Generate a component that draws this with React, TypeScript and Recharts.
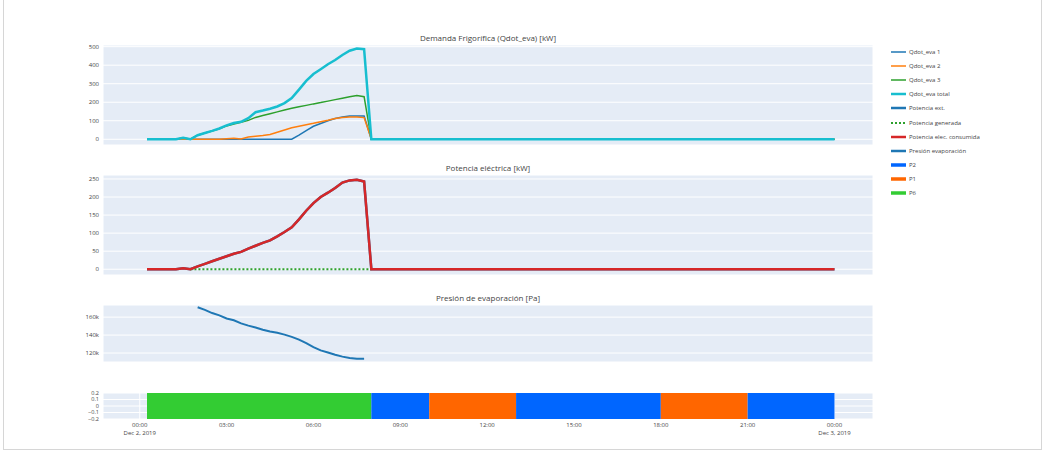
import React from 'react';
import {
  LineChart, Line, AreaChart, Area, XAxis, YAxis, CartesianGrid,
} from 'recharts';

const FONT = '"Open Sans", verdana, arial, sans-serif';
const TXT = '#444';
const BG = '#E5ECF6';

// hours since Dec 2, 2019 00:00 (15 min data while the plant runs)
const HOURS = [
  0.25, 1.25, 1.5, 1.75, 2, 2.25, 2.5, 2.75, 3, 3.25, 3.5, 3.75, 4, 4.25, 4.5,
  4.75, 5, 5.25, 5.5, 5.75, 6, 6.25, 6.5, 6.75, 7, 7.25, 7.5, 7.75, 8, 24,
];
const QDOT_1 = [
  0, 0, 0, 0, 0, 0, 0, 0, 0, 0, 0, 0, 0, 0, 0,
  0, 0, 0, 22, 47, 70, 85, 100, 112, 120, 125, 126, 125, 0, 0,
];
const QDOT_2 = [
  0, 0, 0, 0, 0, 0, 0, 0, 3, 6, 2, 12, 16, 20, 26,
  38, 50, 62, 70, 78, 86, 95, 103, 112, 118, 120, 120, 117, 0, 0,
];
const QDOT_3 = [
  0, 0, 8, 0, 22, 34, 45, 56, 72, 82, 92, 102, 118, 128, 138,
  148, 158, 167, 175, 183, 191, 198, 206, 214, 222, 229, 236, 230, 0, 0,
];
const QDOT_TOTAL = [
  0, 0, 8, 0, 22, 34, 45, 58, 75, 88, 94, 114, 146, 155, 165,
  177, 195, 222, 268, 315, 352, 378, 405, 428, 455, 478, 490, 486, 0, 0,
];
const POT_CONSUMIDA = [
  0, 0, 3, 0, 8, 15, 22, 29, 36, 43, 48, 57, 65, 73, 80,
  91, 103, 116, 138, 162, 183, 200, 212, 225, 240, 246, 248, 243, 0, 0,
];
const POT_EXT = POT_CONSUMIDA;
const POT_GENERADA = [
  null, null, null, 0, 0, 0, 0, 0, 0, 0, 0, 0, 0, 0, 0,
  0, 0, 0, 0, 0, 0, 0, 0, 0, 0, 0, 0, 0, 0, null,
];

const PRES_HOURS = [
  2, 2.25, 2.5, 2.75, 3, 3.25, 3.5, 3.75, 4, 4.25, 4.5, 4.75,
  5, 5.25, 5.5, 5.75, 6, 6.25, 6.5, 6.75, 7, 7.25, 7.5, 7.75,
];
const PRES_PA = [
  171000, 168000, 164500, 162000, 158500, 156500, 153000, 150500, 148500, 146000, 144000, 142500,
  140500, 138000, 135000, 131000, 126500, 123000, 120500, 118000, 116000, 114500, 113500, 113500,
];

const PERIODS = ['P6', 'P2', 'P1', 'P2', 'P1', 'P2'];
const PERIOD_START = [0.25, 8, 10, 13, 18, 21];
const PERIOD_END = [8, 10, 13, 18, 21, 24];
const PERIOD_COLORS: Record<string, string> = { P2: '#0066FF', P1: '#FF6600', P6: '#33CC33' };
const BAR_RANGE = [-0.2, 0.2];

const TIME_TICKS = [0, 3, 6, 9, 12, 15, 18, 21, 24];
const TIME_LABELS = ['00:00', '03:00', '06:00', '09:00', '12:00', '15:00', '18:00', '21:00', '00:00'];
const DATE_LABELS = ['Dec 2, 2019', '', '', '', '', '', '', '', 'Dec 3, 2019'];
const X_DOMAIN = [-1.27, 25.33];

const LEGEND = [
  { name: 'Qdot_eva 1', color: '#1f77b4', width: 1.5, dash: '' },
  { name: 'Qdot_eva 2', color: '#ff7f0e', width: 1.5, dash: '' },
  { name: 'Qdot_eva 3', color: '#2ca02c', width: 1.5, dash: '' },
  { name: 'Qdot_eva total', color: '#17becf', width: 2.5, dash: '' },
  { name: 'Potencia ext.', color: '#1f77b4', width: 2.5, dash: '' },
  { name: 'Potencia generada', color: '#2ca02c', width: 2, dash: '2 2' },
  { name: 'Potencia elec. consumida', color: '#d62728', width: 2.5, dash: '' },
  { name: 'Presión evaporación', color: '#1f77b4', width: 2.5, dash: '' },
  { name: 'P2', color: '#0066FF', width: 3.5, dash: '' },
  { name: 'P1', color: '#FF6600', width: 3.5, dash: '' },
  { name: 'P6', color: '#33CC33', width: 3.5, dash: '' },
];

const demandRows = HOURS.map((t, i) => ({
  t, q1: QDOT_1[i], q2: QDOT_2[i], q3: QDOT_3[i], qt: QDOT_TOTAL[i],
  ext: POT_EXT[i], gen: POT_GENERADA[i], cons: POT_CONSUMIDA[i],
}));
const presRows = PRES_HOURS.map((t, i) => ({ t, p: PRES_PA[i] }));
const periodRows = PERIODS.flatMap((_, i) => [
  { t: PERIOD_START[i], [`s${i}`]: BAR_RANGE },
  { t: PERIOD_END[i], [`s${i}`]: BAR_RANGE },
]);

const tickStyle = { fontSize: 6, fill: TXT, fontFamily: FONT };

const TimeTick = (props: any) => {
  const { x, y, payload } = props;
  const i = TIME_TICKS.indexOf(payload.value);
  return (
    <text x={x} y={y} textAnchor="middle" fontSize={6} fill={TXT} fontFamily={FONT}>
      <tspan x={x} dy={8}>{TIME_LABELS[i]}</tspan>
      {DATE_LABELS[i] && <tspan x={x} dy={8}>{DATE_LABELS[i]}</tspan>}
    </text>
  );
};

const hiddenX = (
  <XAxis type="number" dataKey="t" domain={X_DOMAIN} allowDataOverflow ticks={TIME_TICKS}
    height={0} tick={false} axisLine={false} tickLine={false} />
);

const MARGIN = { top: 10, right: 27, bottom: 10, left: 73 };

const Title = ({ y, text }: { y: number; text: string }) => (
  <div style={{
    position: 'absolute', left: 103, width: 770, top: y - 6, textAlign: 'center',
    fontSize: 8, color: TXT, fontFamily: FONT, lineHeight: '12px',
  }}>{text}</div>
);

export default function App() {
  return (
    <div style={{ position: 'absolute', left: 0, top: 0, width: 1049, height: 455, background: '#fff', overflow: 'hidden' }}>
      <div style={{ position: 'absolute', left: 3, top: -2, width: 1037, height: 450, border: '1px solid #d6d6d6' }} />

      <Title y={38} text="Demanda Frigorífica (Qdot_eva) [kW]" />
      <Title y={168} text="Potencia eléctrica [kW]" />
      <Title y={298} text="Presión de evaporación [Pa]" />

      <div style={{ position: 'absolute', left: 0, top: 35 }}>
        <LineChart width={900} height={120} data={demandRows} margin={MARGIN}>
          <CartesianGrid stroke="#fff" fill={BG} fillOpacity={1} />
          {hiddenX}
          <YAxis type="number" domain={[-31, 509]} ticks={[0, 100, 200, 300, 400, 500]} width={30} interval={0}
            tick={tickStyle} tickSize={0} tickMargin={4} axisLine={false} tickLine={false} />
          <Line dataKey="q1" stroke="#1f77b4" strokeWidth={1.5} dot={false} isAnimationActive={false} />
          <Line dataKey="q2" stroke="#ff7f0e" strokeWidth={1.5} dot={false} isAnimationActive={false} />
          <Line dataKey="q3" stroke="#2ca02c" strokeWidth={1.5} dot={false} isAnimationActive={false} />
          <Line dataKey="qt" stroke="#17becf" strokeWidth={2.5} dot={false} isAnimationActive={false} />
        </LineChart>
      </div>

      <div style={{ position: 'absolute', left: 0, top: 165 }}>
        <LineChart width={900} height={120} data={demandRows} margin={MARGIN}>
          <CartesianGrid stroke="#fff" fill={BG} fillOpacity={1} />
          {hiddenX}
          <YAxis type="number" domain={[-16, 261]} ticks={[0, 50, 100, 150, 200, 250]} width={30} interval={0}
            tick={tickStyle} tickSize={0} tickMargin={4} axisLine={false} tickLine={false} />
          <Line dataKey="ext" stroke="#1f77b4" strokeWidth={2.5} dot={false} isAnimationActive={false} />
          <Line dataKey="gen" stroke="#2ca02c" strokeWidth={2} strokeDasharray="2 2" dot={false} isAnimationActive={false} />
          <Line dataKey="cons" stroke="#d62728" strokeWidth={2.5} dot={false} isAnimationActive={false} />
        </LineChart>
      </div>

      <div style={{ position: 'absolute', left: 0, top: 295 }}>
        <LineChart width={900} height={77} data={presRows} margin={MARGIN}>
          <CartesianGrid stroke="#fff" fill={BG} fillOpacity={1} />
          {hiddenX}
          <YAxis type="number" domain={[110000, 173500]} ticks={[120000, 140000, 160000]} width={30} interval={0}
            tickFormatter={(v: number) => `${v / 1000}k`}
            tick={tickStyle} tickSize={0} tickMargin={4} axisLine={false} tickLine={false} />
          <Line dataKey="p" stroke="#1f77b4" strokeWidth={2} dot={false} isAnimationActive={false} />
        </LineChart>
      </div>

      <div style={{ position: 'absolute', left: 0, top: 383 }}>
        <AreaChart width={900} height={72} data={periodRows} margin={{ top: 10, right: 27, bottom: 10, left: 73 }}>
          <CartesianGrid stroke="#fff" fill={BG} fillOpacity={1} />
          <XAxis type="number" dataKey="t" domain={X_DOMAIN} allowDataOverflow ticks={TIME_TICKS} interval={0}
            height={26} tick={<TimeTick />} tickSize={0} tickMargin={0} axisLine={false} tickLine={false} />
          <YAxis type="number" domain={[-0.2, 0.2]} ticks={[-0.2, -0.1, 0, 0.1, 0.2]} width={30} interval={0}
            tickFormatter={(v: number) => (v < 0 ? `−${Math.abs(v)}` : `${v}`)}
            tick={{ ...tickStyle, fontSize: 5.5 }} tickSize={0} tickMargin={4} axisLine={false} tickLine={false} />
          {PERIODS.map((p, i) => (
            <Area key={i} dataKey={`s${i}`} type="linear" stroke="none" fill={PERIOD_COLORS[p]}
              fillOpacity={1} dot={false} activeDot={false} isAnimationActive={false} />
          ))}
        </AreaChart>
      </div>

      {LEGEND.map((item, i) => (
        <div key={item.name} style={{ position: 'absolute', left: 891, top: 46 + i * 14.1, height: 12, display: 'flex', alignItems: 'center' }}>
          <svg width={15} height={8}>
            <line x1={0} x2={15} y1={4} y2={4} stroke={item.color} strokeWidth={item.width}
              strokeDasharray={item.dash || undefined} />
          </svg>
          <span style={{ marginLeft: 3, fontSize: 6, color: TXT, fontFamily: FONT, whiteSpace: 'nowrap' }}>{item.name}</span>
        </div>
      ))}
    </div>
  );
}
